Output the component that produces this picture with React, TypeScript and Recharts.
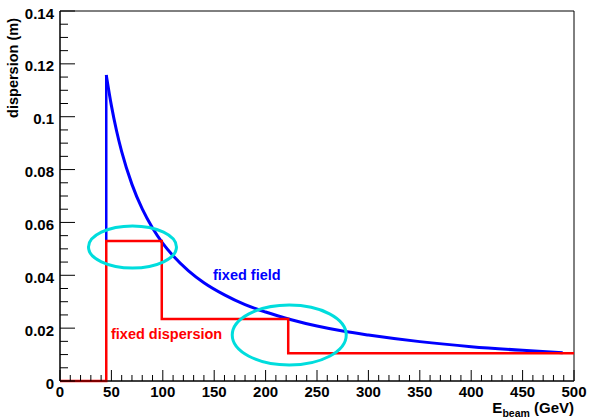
import { LineChart, Line, XAxis, YAxis, ReferenceArea, ReferenceDot } from 'recharts';

// beam energy (GeV) vs dispersion (m)
const fixedFieldEdge = [
  { e: 45, d: 0.053 },
  { e: 45, d: 0.1158 },
];

const fixedField = [
  { e: 45, d: 0.1158 },
  { e: 50, d: 0.1042 },
  { e: 55, d: 0.0947 },
  { e: 60, d: 0.0868 },
  { e: 70, d: 0.0744 },
  { e: 80, d: 0.0651 },
  { e: 90, d: 0.0579 },
  { e: 100, d: 0.0521 },
  { e: 110, d: 0.0474 },
  { e: 125, d: 0.0417 },
  { e: 140, d: 0.0372 },
  { e: 160, d: 0.0326 },
  { e: 180, d: 0.0289 },
  { e: 200, d: 0.0261 },
  { e: 225, d: 0.0232 },
  { e: 250, d: 0.0208 },
  { e: 275, d: 0.0189 },
  { e: 300, d: 0.0174 },
  { e: 350, d: 0.0149 },
  { e: 400, d: 0.013 },
  { e: 450, d: 0.0116 },
  { e: 489, d: 0.0107 },
];

const fixedDispersion = [
  { e: 0, d: 0 },
  { e: 45, d: 0 },
  { e: 45, d: 0.053 },
  { e: 99, d: 0.053 },
  { e: 99, d: 0.0235 },
  { e: 222, d: 0.0235 },
  { e: 222, d: 0.0105 },
  { e: 500, d: 0.0105 },
];

// circled regions (centre in data units)
const highlights = [
  { e: 70.5, d: 0.0507, rx: 44, ry: 21 },
  { e: 223, d: 0.0174, rx: 57, ry: 30 },
];

const xMajor = [0, 50, 100, 150, 200, 250, 300, 350, 400, 450, 500];
const yMajor = [0, 0.02, 0.04, 0.06, 0.08, 0.1, 0.12, 0.14];

const xTicks: number[] = [];
for (let i = 0; i <= 50; i++) xTicks.push(i * 10);
const yTicks: number[] = [];
for (let i = 0; i <= 28; i++) yTicks.push(Math.round(i * 5) / 1000);

const FONT = '"Liberation Sans", Arial, sans-serif';

const isMajor = (list: number[], v: number) => list.some((m) => Math.abs(m - v) < 1e-9);

const XTick = (props: any) => {
  const { x, y, payload } = props;
  const major = isMajor(xMajor, payload.value);
  return (
    <g>
      <line x1={x} x2={x} y1={y} y2={y - (major ? 11 : 6)} stroke="#000" />
      {major && (
        <text x={x} y={y + 16} textAnchor="middle" fontFamily={FONT} fontWeight="bold" fontSize={15} fill="#000">
          {payload.value}
        </text>
      )}
    </g>
  );
};

const YTick = (props: any) => {
  const { x, y, payload } = props;
  const major = isMajor(yMajor, payload.value);
  const ax = x + 6;
  return (
    <g>
      <line x1={ax} x2={ax + (major ? 15 : 8)} y1={y} y2={y} stroke="#000" />
      {major && (
        <text x={x} y={y + 7.5} textAnchor="end" fontFamily={FONT} fontWeight="bold" fontSize={15} fill="#000">
          {String(payload.value)}
        </text>
      )}
    </g>
  );
};

const Ellipse = (props: any) => (
  <ellipse cx={props.cx} cy={props.cy} rx={props.rx} ry={props.ry} fill="none" stroke="#00dddd" strokeWidth={3} />
);

const App = () => {
  return (
    <div style={{ position: 'absolute', left: 0, top: 0, width: 589, height: 418, background: '#fff' }}>
      <LineChart width={589} height={418} margin={{ top: 11, right: 15, bottom: 0, left: 0 }}>
        <XAxis
          type="number"
          dataKey="e"
          domain={[0, 500]}
          ticks={xTicks}
          interval={0}
          tickSize={0}
          tickMargin={0}
          tickLine={false}
          tick={<XTick />}
          height={37}
          stroke="#000"
          allowDuplicatedCategory={false}
        />
        <YAxis
          type="number"
          dataKey="d"
          domain={[0, 0.14]}
          ticks={yTicks}
          interval={0}
          tickSize={0}
          tickMargin={6}
          tickLine={false}
          tick={<YTick />}
          width={60}
          stroke="#000"
        />
        <ReferenceArea x1={0} x2={500} y1={0} y2={0.14} fill="none" stroke="#000" />
        {highlights.map((h, i) => (
          <ReferenceDot
            key={`hl-${i}`}
            x={h.e}
            y={h.d}
            r={1}
            shape={(p: any) => <Ellipse {...p} rx={h.rx} ry={h.ry} />}
          />
        ))}
        <Line data={fixedFieldEdge} dataKey="d" type="linear" stroke="#0000ff" strokeWidth={2.5} dot={false} isAnimationActive={false} />
        <Line data={fixedField} dataKey="d" type="monotone" stroke="#0000ff" strokeWidth={3} dot={false} isAnimationActive={false} />
        <Line data={fixedDispersion} dataKey="d" type="linear" stroke="#ff0000" strokeWidth={2.5} dot={false} isAnimationActive={false} />
      </LineChart>
      <svg width={589} height={418} style={{ position: 'absolute', left: 0, top: 0, pointerEvents: 'none' }}>
        <text x={213} y={280} fontFamily={FONT} fontWeight="bold" fontSize={14.5} fill="#0000ff">
          fixed field
        </text>
        <text x={111} y={339} fontFamily={FONT} fontWeight="bold" fontSize={14.5} fill="#ff0000">
          fixed dispersion
        </text>
        <text x={18} y={18} transform="rotate(-90 18 18)" textAnchor="end" fontFamily={FONT} fontWeight="bold" fontSize={14.5} fill="#000">
          dispersion (m)
        </text>
        <text x={574} y={413} textAnchor="end" fontFamily={FONT} fontWeight="bold" fontSize={15} fill="#000">
          E<tspan fontSize={10.5} dy={4}>beam</tspan>
          <tspan dy={-4}> (GeV)</tspan>
        </text>
      </svg>
    </div>
  );
};

export default App;
